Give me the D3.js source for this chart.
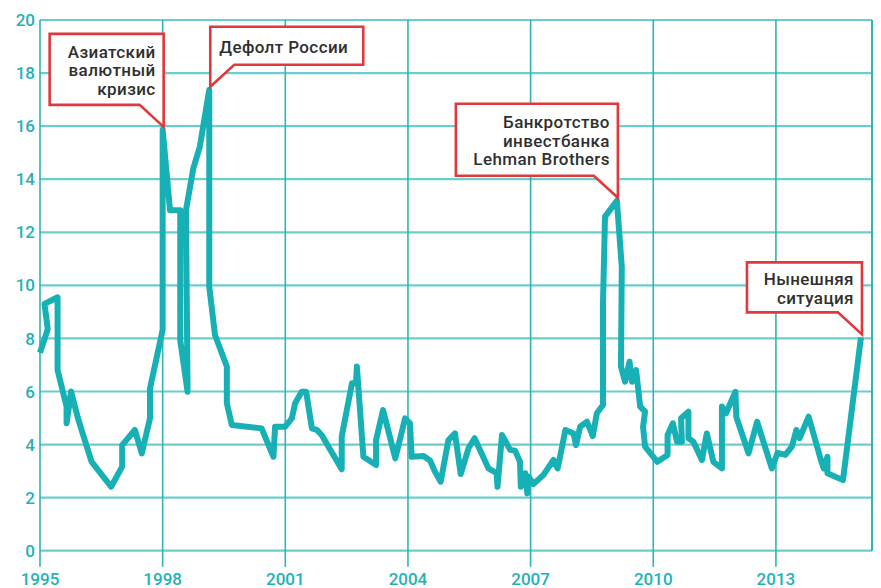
<!DOCTYPE html>
<html>
<head>
<meta charset="utf-8">
<script src="https://cdn.jsdelivr.net/npm/d3@7"></script>
<style>
    body { margin: 0; background: #fff; }
    svg { display: block; font-family: Roboto, "Noto Sans", sans-serif; }
    .tick-label { fill: #22b2b6; font-size: 17px; font-weight: 500; }
    .note-text { fill: #2f2f2f; font-size: 17px; font-weight: 500; letter-spacing: 0.4px; }
</style>
</head>
<body>
<svg id="chart"></svg>
<script>
// values (year as decimal, value on the left axis)
const years = [1995.0, 1995.19, 1995.11, 1995.43, 1995.43, 1995.65, 1995.65, 1995.76, 1995.94, 1996.26,
    1996.74, 1997.01, 1997.01, 1997.32, 1997.49, 1997.69, 1997.69, 1998.0, 1998.0, 1998.18,
    1998.43, 1998.43, 1998.61, 1998.57, 1998.75, 1998.91, 1999.14, 1999.14, 1999.28, 1999.57,
    1999.57, 1999.69, 2000.42, 2000.71, 2000.75, 2000.99, 2001.16, 2001.24, 2001.40, 2001.51,
    2001.65, 2001.77, 2001.89, 2002.10, 2002.38, 2002.38, 2002.63, 2002.73, 2002.75, 2002.91,
    2003.22, 2003.22, 2003.39, 2003.69, 2003.93, 2004.05, 2004.09, 2004.38, 2004.54, 2004.66,
    2004.80, 2004.99, 2005.15, 2005.29, 2005.48, 2005.63, 2005.97, 2006.17, 2006.19, 2006.30,
    2006.50, 2006.62, 2006.74, 2006.76, 2006.87, 2006.92, 2006.95, 2007.07, 2007.31, 2007.56,
    2007.66, 2007.72, 2007.85, 2008.05, 2008.11, 2008.21, 2008.38, 2008.52, 2008.62, 2008.77,
    2008.77, 2008.82, 2009.11, 2009.23, 2009.21, 2009.31, 2009.42, 2009.48, 2009.58, 2009.68,
    2009.80, 2009.75, 2009.80, 2010.10, 2010.35, 2010.35, 2010.48, 2010.58, 2010.70, 2010.68,
    2010.86, 2010.86, 2010.98, 2011.19, 2011.31, 2011.47, 2011.68, 2011.68, 2011.78, 2012.01,
    2012.03, 2012.33, 2012.54, 2012.90, 2013.04, 2013.23, 2013.39, 2013.50, 2013.58, 2013.80,
    2014.10, 2014.17, 2014.26, 2014.26, 2014.64, 2015.08];

const values = [7.46, 8.35, 9.3, 9.55, 6.81, 5.43, 4.8, 6.0, 4.93, 3.36,
    2.41, 3.17, 3.98, 4.55, 3.67, 4.99, 6.12, 8.32, 15.86, 12.83,
    12.83, 7.93, 5.99, 12.83, 14.41, 15.23, 17.37, 9.95, 8.13, 6.94,
    5.56, 4.74, 4.61, 3.54, 4.67, 4.67, 4.99, 5.56, 5.99, 5.99,
    4.61, 4.55, 4.36, 3.80, 3.07, 4.30, 6.31, 6.31, 6.94, 3.54,
    3.23, 4.17, 5.30, 3.48, 4.99, 4.80, 3.54, 3.57, 3.40, 2.98,
    2.60, 4.17, 4.42, 2.89, 3.86, 4.24, 3.10, 2.92, 2.41, 4.36,
    3.80, 3.77, 3.35, 2.41, 2.92, 2.16, 2.79, 2.51, 2.85, 3.42,
    3.10, 3.54, 4.55, 4.42, 3.98, 4.67, 4.86, 4.32, 5.18, 5.49,
    9.33, 12.59, 13.19, 10.70, 6.94, 6.37, 7.12, 6.37, 6.81, 5.43,
    5.24, 4.67, 3.92, 3.35, 3.61, 4.36, 4.80, 4.11, 4.11, 4.99,
    5.24, 4.24, 4.11, 3.42, 4.42, 3.35, 3.10, 5.43, 5.18, 5.99,
    5.05, 3.67, 4.86, 3.10, 3.69, 3.61, 3.92, 4.55, 4.24, 5.05,
    3.42, 3.10, 3.54, 2.92, 2.66, 8.04];

const xTicks = [1995, 1998, 2001, 2004, 2007, 2010, 2013];
const yTicks = [0, 2, 4, 6, 8, 10, 12, 14, 16, 18, 20];

// callouts: text lines, the point they mark, which side the box hangs on
const noteLines = [
    ['Азиатский', 'валютный', 'кризис'],
    ['Дефолт России'],
    ['Банкротство', 'инвестбанка', 'Lehman Brothers'],
    ['Нынешняя', 'ситуация']
];
const noteYears = [1998.0, 1999.14, 2009.11, 2015.08];
const noteValues = [15.86, 17.37, 13.19, 8.04];
const noteSides = ['left', 'right', 'left', 'left'];

class RateChart {

    constructor(_config) {
        this.config = {
            parentElement: _config.parentElement,
            containerWidth: 881,
            containerHeight: 588,
            margin: { top: 20, right: 9, bottom: 37.3, left: 40 },
            lineColor: '#17b1b5',
            noteColor: '#e0383d',
            // box sizes of the callouts, same order as noteLines
            noteWidths: [114, 153, 162, 115],
            noteHeights: [71, 38, 72, 50]
        };
        this.data = years.map((y, i) => ({ year: y, value: values[i] }));
        this.initVis();
    }

    initVis() {
        let vis = this;
        vis.width = vis.config.containerWidth - vis.config.margin.left - vis.config.margin.right;
        vis.height = vis.config.containerHeight - vis.config.margin.top - vis.config.margin.bottom;

        vis.xScale = d3.scaleLinear()
            .domain([1995, 2015.35])
            .range([0, vis.width]);

        vis.yScale = d3.scaleLinear()
            .domain([0, 20])
            .range([vis.height, 0]);

        vis.svg = d3.select(vis.config.parentElement)
            .attr('width', vis.config.containerWidth)
            .attr('height', vis.config.containerHeight);

        vis.chart = vis.svg.append('g')
            .attr('transform', `translate(${vis.config.margin.left},${vis.config.margin.top})`);

        vis.renderGrid();
        vis.renderVis();
        vis.renderNotes();
    }

    renderGrid() {
        let vis = this;

        // horizontal grid lines
        vis.chart.selectAll('.h-grid')
            .data(yTicks)
            .join('line')
            .attr('class', 'h-grid')
            .attr('x1', 0)
            .attr('x2', vis.width)
            .attr('y1', d => vis.yScale(d))
            .attr('y2', d => vis.yScale(d))
            .attr('stroke', '#6ccdcd')
            .attr('stroke-width', 2.2);

        // vertical grid lines run a bit below the zero line as ticks
        vis.chart.selectAll('.v-grid')
            .data(xTicks)
            .join('line')
            .attr('class', 'v-grid')
            .attr('x1', d => vis.xScale(d))
            .attr('x2', d => vis.xScale(d))
            .attr('y1', 0)
            .attr('y2', vis.height + 16)
            .attr('stroke', '#2eb4b6')
            .attr('stroke-width', 1.6);

        // right frame
        vis.chart.append('line')
            .attr('x1', vis.width)
            .attr('x2', vis.width)
            .attr('y1', 0)
            .attr('y2', vis.height)
            .attr('stroke', '#2eb4b6')
            .attr('stroke-width', 2);

        vis.chart.selectAll('.y-label')
            .data(yTicks)
            .join('text')
            .attr('class', 'tick-label y-label')
            .attr('x', -5)
            .attr('y', d => vis.yScale(d))
            .attr('dy', '0.36em')
            .attr('text-anchor', 'end')
            .text(d => d);

        vis.chart.selectAll('.x-label')
            .data(xTicks)
            .join('text')
            .attr('class', 'tick-label x-label')
            .attr('x', d => vis.xScale(d))
            .attr('y', vis.height + 34)
            .attr('text-anchor', 'middle')
            .text(d => d);
    }

    renderVis() {
        let vis = this;

        const line = d3.line()
            .x(d => vis.xScale(d.year))
            .y(d => vis.yScale(d.value));

        vis.chart.append('path')
            .datum(vis.data)
            .attr('fill', 'none')
            .attr('stroke', vis.config.lineColor)
            .attr('stroke-width', 6)
            .attr('stroke-linejoin', 'round')
            .attr('d', line);
    }

    renderNotes() {
        let vis = this;
        const lineHeight = 18.5;

        noteLines.forEach((lines, i) => {
            // tip of the pointer sits just above the marked point
            const tx = vis.xScale(noteYears[i]) + 1;
            const ty = vis.yScale(noteValues[i]) - 3;
            const boxW = vis.config.noteWidths[i];
            const boxH = vis.config.noteHeights[i];
            const bottom = ty - 22;
            const top = bottom - boxH;
            const left = noteSides[i] === 'left';
            const x0 = left ? tx - boxW : tx;
            const x1 = left ? tx : tx + boxW;

            const p = d3.path();
            if (left) {
                p.moveTo(x0, top);
                p.lineTo(x1, top);
                p.lineTo(tx, ty);
                p.lineTo(tx - 24, bottom);
                p.lineTo(x0, bottom);
            } else {
                p.moveTo(x0, ty);
                p.lineTo(x0, top);
                p.lineTo(x1, top);
                p.lineTo(x1, bottom);
                p.lineTo(tx + 24, bottom);
            }
            p.closePath();

            const g = vis.chart.append('g').attr('class', 'note');
            g.append('path')
                .attr('d', p.toString())
                .attr('fill', '#fff')
                .attr('stroke', vis.config.noteColor)
                .attr('stroke-width', 2.6)
                .attr('stroke-linejoin', 'miter');

            const firstBase = top + (boxH - (lines.length - 1) * lineHeight) / 2 + 7;
            g.selectAll('text')
                .data(lines)
                .join('text')
                .attr('class', 'note-text')
                .attr('x', left ? x1 - 8 : x0 + 9)
                .attr('y', (d, j) => firstBase + j * lineHeight)
                .attr('text-anchor', left ? 'end' : 'start')
                .text(d => d);
        });
    }
}

new RateChart({ parentElement: '#chart' });
</script>
</body>
</html>
